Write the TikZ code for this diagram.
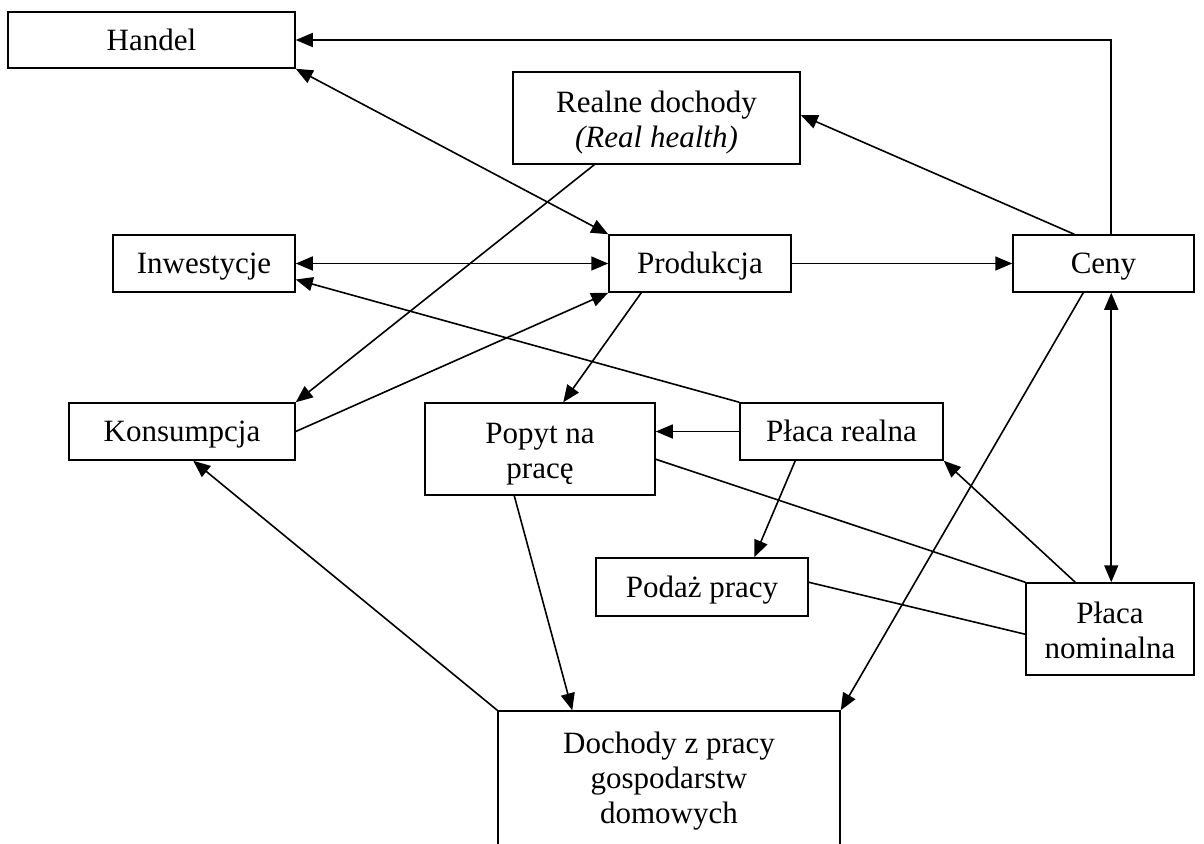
\documentclass[tikz,border=0pt]{standalone}
\usepackage{fontspec}
\setmainfont{Liberation Serif}
\usetikzlibrary{arrows.meta,calc}
\newcommand{\boxlines}[2]{\raisebox{#1}[\height][\depth]{\begin{tabular}{@{}c@{}}#2\end{tabular}}}
\tikzset{
  box/.style={draw, line width=1.5pt, inner sep=0pt,
    font=\fontsize{31}{35}\selectfont},
  conn/.style={line width=1.6pt},
  arr/.style={conn, -{Triangle[length=17pt,width=14pt]}},
  darr/.style={conn, {Triangle[length=17pt,width=14pt]}-{Triangle[length=17pt,width=14pt]}}
}
\begin{document}
\begin{tikzpicture}[x=1pt,y=-1pt]
\fill[white] (0,0) rectangle (1204,843);
\useasboundingbox (0,0) rectangle (1204,843);
\begin{scope}
\clip (0,0) rectangle (1204,843);
\node[box, minimum width=287pt, minimum height=56pt] (handel) at (151.5,40) {\boxlines{-4pt}{Handel}};
\node[box, minimum width=287pt, minimum height=92pt] (realne) at (656.5,118) {\boxlines{-5pt}{Realne dochody\\\textit{(Real health)}}};
\node[box, minimum width=182pt, minimum height=57pt] (inw) at (204,263.5) {\boxlines{-3pt}{Inwestycje}};
\node[box, minimum width=182pt, minimum height=57pt] (prod) at (700,263.5) {\boxlines{-3pt}{Produkcja}};
\node[box, minimum width=181pt, minimum height=57pt] (ceny) at (1103.5,263.5) {\boxlines{-3pt}{Ceny}};
\node[box, minimum width=226pt, minimum height=57pt] (kons) at (182,431.5) {\boxlines{-3pt}{Konsumpcja}};
\node[box, minimum width=230pt, minimum height=92pt] (popyt) at (540,449) {\boxlines{-5pt}{Popyt na\\pracę}};
\node[box, minimum width=203pt, minimum height=57pt] (placar) at (841.5,431.5) {\boxlines{-3pt}{Płaca realna}};
\node[box, minimum width=212pt, minimum height=58pt] (podaz) at (702,587) {\boxlines{-3pt}{Podaż pracy}};
\node[box, minimum width=168pt, minimum height=92pt] (placan) at (1110,629) {\boxlines{-5pt}{Płaca\\nominalna}};
\node[box, minimum width=342pt, minimum height=140pt] (doch) at (669,781) {\boxlines{0pt}{Dochody z pracy\\gospodarstw\\domowych}};

\coordinate (cenytop) at ($(ceny.north west)+(99,0)$);
\coordinate (cenybot) at ($(ceny.south west)+(99,0)$);
\draw[arr] (cenytop) |- (handel.east);
\draw[darr] (handel.south east) -- (prod.north west);
\draw[arr] ($(realne.south west)+(82,0)$) -- (kons.north east);
\draw[arr] ($(ceny.north west)+(62,0)$) -- ($(realne.east)+(0,-3)$);
\draw[darr] (inw.east) -- (prod.west);
\draw[arr] (prod.east) -- (ceny.west);
\draw[arr] (placar.north west) -- ($(inw.east)+(0,16)$);
\draw[arr] (kons.east) -- (prod.south west);
\draw[arr] ($(prod.south west)+(33,0)$) -- ($(popyt.north west)+(139,0)$);
\draw[arr] (placar.west) -- (popyt.east |- placar.west);
\draw[conn] ($(popyt.north east)+(0,57)$) -- (placan.north west);
\draw[arr] ($(placar.south west)+(56,0)$) -- ($(podaz.north west)+(159,0)$);
\draw[conn] ($(podaz.north east)+(0,25)$) -- ($(placan.north west)+(0,52)$);
\draw[arr] ($(placan.north west)+(50,0)$) -- (placar.south east);
\draw[darr] (cenybot) -- (cenybot |- placan.north);
\draw[arr] ($(ceny.south west)+(71,0)$) -- (doch.north east);
\draw[arr] ($(popyt.south west)+(90,0)$) -- ($(doch.north west)+(75,0)$);
\draw[arr] (doch.north west) -- ($(kons.south west)+(125,0)$);
\end{scope}
\end{tikzpicture}
\end{document}
